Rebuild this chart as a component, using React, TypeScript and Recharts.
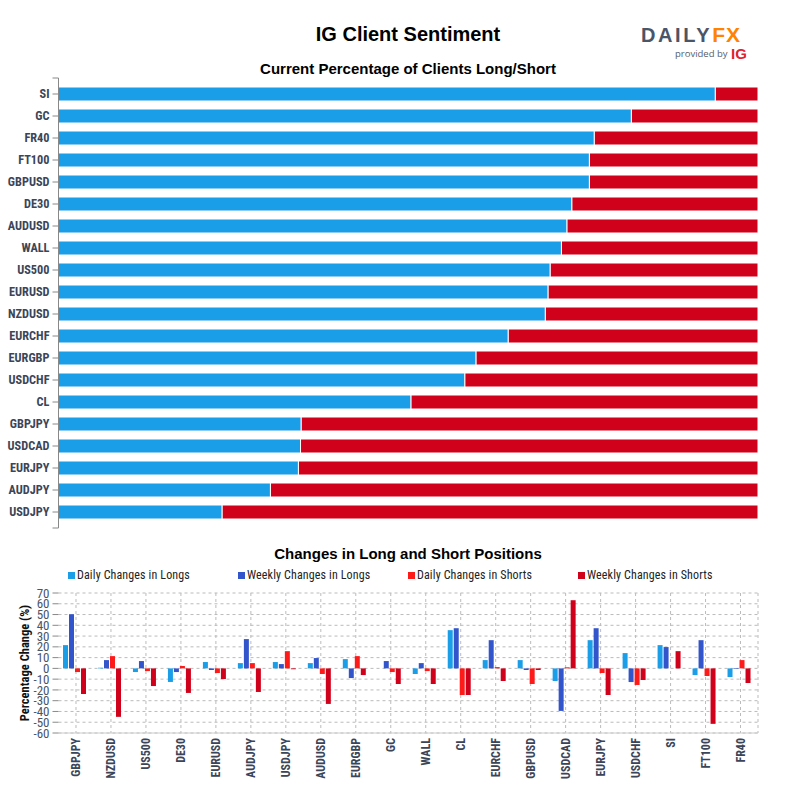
import { BarChart, Bar, XAxis, YAxis, CartesianGrid, Legend, Rectangle } from 'recharts'

const sentimentPairs = ['SI', 'GC', 'FR40', 'FT100', 'GBPUSD', 'DE30', 'AUDUSD', 'WALL', 'US500', 'EURUSD', 'NZDUSD', 'EURCHF', 'EURGBP', 'USDCHF', 'CL', 'GBPJPY', 'USDCAD', 'EURJPY', 'AUDJPY', 'USDJPY']
const longPct = [93.9, 81.9, 76.6, 75.9, 75.9, 73.4, 72.7, 71.9, 70.3, 70.0, 69.6, 64.3, 59.7, 58.1, 50.4, 34.7, 34.6, 34.3, 30.3, 23.4]

const changePairs = ['GBPJPY', 'NZDUSD', 'US500', 'DE30', 'EURUSD', 'AUDJPY', 'USDJPY', 'AUDUSD', 'EURGBP', 'GC', 'WALL', 'CL', 'EURCHF', 'GBPUSD', 'USDCAD', 'EURJPY', 'USDCHF', 'SI', 'FT100', 'FR40']
const dailyLongs = [21.6, 0.6, -3.4, -12.6, 5.9, 4.9, 5.9, 4.9, 8.6, 0, -5.2, 35.5, 7.7, 7.7, -11.7, 26.2, 14.2, 21.6, -6.2, -8]
const weeklyLongs = [50.3, 7.7, 6.8, -3.4, -1.5, 27.2, 4, 9.6, -9, 6.8, 4.9, 37.3, 26.2, -1.5, -39.5, 37.3, -12.7, 19.8, 26.2, -0.6]
const dailyShorts = [-3.4, 11.4, -2.5, 2.2, -4.3, 4.9, 16, -5.2, 11.4, -3.4, -2.5, -24.7, 1.2, -14.5, 1, -4.3, -15.4, 0, -7.1, 7.7]
const weeklyShorts = [-23.8, -45, -16.4, -22.8, -9.9, -21.9, -0.8, -33, -6.2, -14.5, -14.5, -24.7, -11.7, -1.5, 63.3, -24.7, -10.8, 16, -51.5, -13.6]
const yTicks = [70, 60, 50, 40, 30, 20, 10, 0, -10, -20, -30, -40, -50, -60]

const LIGHT_BLUE = '#1a9ee8', BLUE = '#3355cc', RED = '#ff1a1a', DARK_RED = '#d0021b'
const NARROW = '"Roboto Condensed", "Liberation Sans Narrow", Roboto, sans-serif'
const HEAD = '"Liberation Sans", Arial, sans-serif'

const sentimentData = sentimentPairs.map((name, i) => ({ name, long: longPct[i], short: +(100 - longPct[i]).toFixed(1) }))
const changeData = changePairs.map((name, i) => ({
  name, dl: dailyLongs[i], wl: weeklyLongs[i], ds: dailyShorts[i], ws: weeklyShorts[i],
}))

const PairTick = ({ x, y, payload, index }: any) => (
  <g>
    <text x={x} y={y} dy={4} textAnchor="end" fontFamily={NARROW} fontSize={12.3} fontWeight={700} fill="#3b4558">{payload.value}</text>
    {index === 0 && <line x1={x + 3} x2={x + 9} y1={y - 16} y2={y - 16} stroke="#888" />}
    {index === sentimentPairs.length - 1 && <line x1={x + 3} x2={x + 9} y1={y + 16} y2={y + 16} stroke="#888" />}
  </g>
)

const RotatedTick = ({ x, y, payload }: any) => (
  <text transform={`translate(${x},${y}) rotate(-90)`} dy={4} textAnchor="end" fontFamily={NARROW} fontSize={12} fontWeight={700} fill="#3b4558">{payload.value}</text>
)

// the bar group sits a little left of the category centre in the original
const ShiftedBar = (props: any) => <Rectangle {...props} x={props.x - 1.5} />

const LegendRow = ({ payload }: any) => (
  <div style={{ display: 'flex', fontFamily: NARROW, fontSize: 12, color: '#222', letterSpacing: 0.13 }}>
    {(payload || []).map((p: any) => (
      <div key={p.value} style={{ width: 170, display: 'flex', alignItems: 'center' }}>
        <span style={{ width: 7, height: 7, background: p.color, marginRight: 2 }} />
        {p.value}
      </div>
    ))}
  </div>
)

const Title = ({ top, size, children }: any) => (
  <div style={{ position: 'absolute', top, left: 0, width: 816, textAlign: 'center', fontFamily: HEAD, fontWeight: 700, fontSize: size, color: '#000' }}>{children}</div>
)

export default function App() {
  return (
    <div style={{ position: 'absolute', left: 0, top: 0, width: 800, height: 800, background: '#fff', overflow: 'hidden' }}>
      <Title top={23} size={20}>IG Client Sentiment</Title>
      <Title top={60} size={15}>Current Percentage of Clients Long/Short</Title>
      <Title top={545} size={15}>Changes in Long and Short Positions</Title>

      <div style={{ position: 'absolute', left: 641, top: 23, fontFamily: HEAD, fontWeight: 700, fontSize: 20, letterSpacing: 2.6, color: '#4a5568', whiteSpace: 'nowrap' }}>
        DAILY<span style={{ color: '#ff8200', fontSize: 21, letterSpacing: 1 }}>FX</span>
      </div>
      <div style={{ position: 'absolute', left: 675, top: 47, fontFamily: '"Open Sans", sans-serif', fontSize: 9.5, color: '#555e6e', whiteSpace: 'nowrap' }}>provided by</div>
      <div style={{ position: 'absolute', left: 731, top: 45, fontFamily: HEAD, fontWeight: 700, fontSize: 15, color: '#e0232e' }}>IG</div>

      <div style={{ position: 'absolute', left: 0, top: 0 }}>
        <BarChart width={800} height={540} layout="vertical" data={sentimentData} barSize={14}
          margin={{ top: 78, right: 42, bottom: 12, left: 0 }}>
          <XAxis type="number" domain={[0, 100]} hide />
          <YAxis type="category" dataKey="name" width={58.5} interval={0} padding={{ top: 5, bottom: 5 }}
            axisLine={{ stroke: '#888' }} tickLine={{ stroke: '#888' }} tickSize={6} tickMargin={3} tick={<PairTick />} />
          <Bar dataKey="long" stackId="a" fill={LIGHT_BLUE} stroke="#fff" strokeWidth={1} isAnimationActive={false} />
          <Bar dataKey="short" stackId="a" fill={DARK_RED} stroke="#fff" strokeWidth={1} isAnimationActive={false} />
        </BarChart>
      </div>

      <div style={{ position: 'absolute', left: 0, top: 540 }}>
        <BarChart width={800} height={260} data={changeData} barSize={5} barGap={1}
          margin={{ top: 53, right: 42, bottom: 0, left: 0 }}>
          <CartesianGrid strokeDasharray="3 3" stroke="#bbb"
            verticalCoordinatesGenerator={({ offset }: any) => [
              ...changePairs.map((_, i) => offset.left + (offset.width * (i + 0.5)) / changePairs.length),
              offset.left + offset.width,
            ]} />
          <XAxis dataKey="name" interval={0} height={67} axisLine={{ stroke: '#ccc' }} tickLine={false} tickSize={6} tickMargin={-1} tick={<RotatedTick />} />
          <YAxis width={58.5} domain={[-60, 70]} ticks={yTicks} interval={0} axisLine={false} tickLine={{ stroke: '#888' }} tickSize={6} tickMargin={3}
            tick={{ fontFamily: NARROW, fontSize: 13, fill: '#4a5568' }}
            label={{ value: 'Percentage Change (%)', angle: -90, position: 'insideLeft', offset: 25, style: { textAnchor: 'middle', fontFamily: NARROW, fontSize: 12.5, fontWeight: 700, fill: '#111' } }} />
          <Legend layout="vertical" align="center" verticalAlign="middle" itemSorter={null} content={<LegendRow />}
            wrapperStyle={{ left: 68, top: 28, width: 700 }} />
          <Bar dataKey="dl" name="Daily Changes in Longs" fill={LIGHT_BLUE} shape={ShiftedBar} isAnimationActive={false} />
          <Bar dataKey="wl" name="Weekly Changes in Longs" fill={BLUE} shape={ShiftedBar} isAnimationActive={false} />
          <Bar dataKey="ds" name="Daily Changes in Shorts" fill={RED} shape={ShiftedBar} isAnimationActive={false} />
          <Bar dataKey="ws" name="Weekly Changes in Shorts" fill={DARK_RED} shape={ShiftedBar} isAnimationActive={false} />
        </BarChart>
      </div>
    </div>
  )
}
